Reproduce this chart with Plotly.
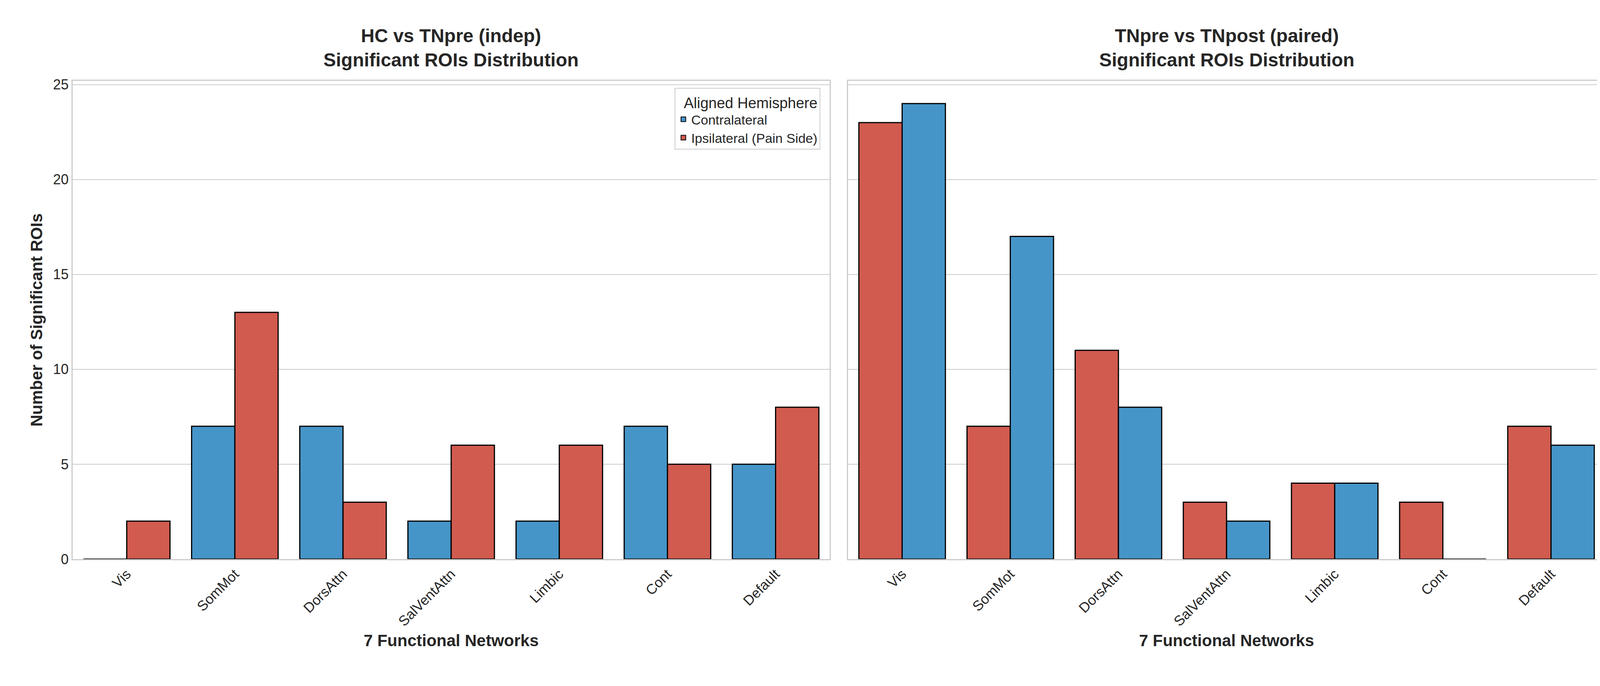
import plotly.graph_objects as go
from plotly.subplots import make_subplots

networks = ["Vis", "SomMot", "DorsAttn", "SalVentAttn", "Limbic", "Cont", "Default"]
left_contra = [0, 7, 7, 2, 2, 7, 5]
left_ipsi = [2, 13, 3, 6, 6, 5, 8]
right_ipsi = [23, 7, 11, 3, 4, 3, 7]
right_contra = [24, 17, 8, 2, 4, 0, 6]

blue = "#4695c8"
red = "#d15b4f"

fig = make_subplots(rows=1, cols=2, shared_yaxes=True, horizontal_spacing=0.012,
                    subplot_titles=["<b>HC vs TNpre (indep)<br>Significant ROIs Distribution</b>",
                                    "<b>TNpre vs TNpost (paired)<br>Significant ROIs Distribution</b>"])

line = dict(color="black", width=3)
fig.add_trace(go.Bar(x=networks, y=left_contra, name="Contralateral", marker=dict(color=blue, line=line)), 1, 1)
fig.add_trace(go.Bar(x=networks, y=left_ipsi, name="Ipsilateral (Pain Side)", marker=dict(color=red, line=line)), 1, 1)
fig.add_trace(go.Bar(x=networks, y=right_ipsi, showlegend=False, marker=dict(color=red, line=line)), 1, 2)
fig.add_trace(go.Bar(x=networks, y=right_contra, showlegend=False, marker=dict(color=blue, line=line)), 1, 2)

fig.update_layout(
    width=4130, height=1740, template="plotly_white", barmode="group",
    bargap=0.2, bargroupgap=0,
    font=dict(family="Liberation Sans", size=36, color="#262626"),
    margin=dict(l=178, r=29, t=199, b=316),
    legend=dict(x=0.488, y=0.985, xanchor="right", yanchor="top",
                title=dict(text="  Aligned Hemisphere", side="top", font=dict(size=38)),
                bordercolor="#cccccc", borderwidth=2, bgcolor="white", font=dict(size=34),
                itemsizing="constant"),
)
for ann in fig.layout.annotations:
    ann.font = dict(size=48, color="#262626")
    ann.yshift = 25

axstyle = dict(showline=True, mirror=True, linecolor="#cccccc", linewidth=3, ticks="")
fig.update_xaxes(tickangle=-45, showgrid=False, tickfont=dict(size=36),
                 title=dict(text="<b>7 Functional Networks</b>", font=dict(size=42)), **axstyle)
fig.update_yaxes(range=[0, 25.2], dtick=5, gridcolor="#cccccc", gridwidth=2, zeroline=False, **axstyle)
fig.update_yaxes(title=dict(text="<b>Number of Significant ROIs</b>", font=dict(size=42)),
                 tickfont=dict(size=36), row=1, col=1)

fig.write_html("out.html")
